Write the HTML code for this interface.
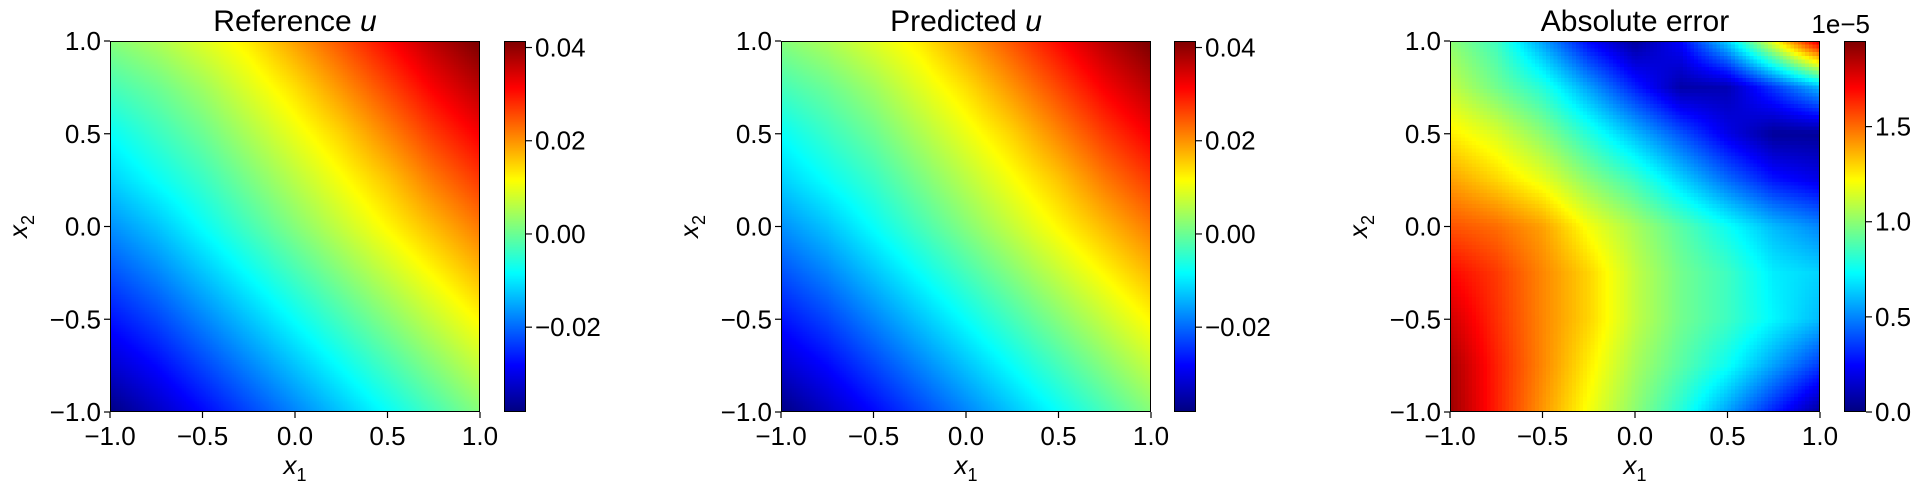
<!DOCTYPE html>
<html><head><meta charset="utf-8">
<style>
html,body{margin:0;padding:0;background:#fff;}
body{width:1922px;height:484px;position:relative;overflow:hidden;font-family:"Liberation Sans","DejaVu Sans",sans-serif;}
canvas{position:absolute;}
svg{position:absolute;left:0;top:0;}
</style></head>
<body>
<div style="position:absolute;left:0;top:0;width:1922px;height:484px;">
<canvas id="c1"></canvas>
<canvas id="c2"></canvas>
<canvas id="c3"></canvas>
<canvas id="cb1"></canvas>
<canvas id="cb2"></canvas>
<canvas id="cb3"></canvas>
<svg id="ov" width="1922" height="484"></svg>
</div>
<script>
const gridX1 = [-1,-0.75,-0.5,-0.25,0,0.25,0.5,0.75,1];
const gridX2 = [1,0.75,0.5,0.25,0,-0.25,-0.5,-0.75,-1];
const refU = [
 [0.002,0.005,0.009,0.013,0.019,0.025,0.031,0.037,0.042],
 [-0.003,0.000,0.004,0.009,0.014,0.020,0.026,0.032,0.037],
 [-0.008,-0.004,0.000,0.005,0.010,0.015,0.021,0.027,0.032],
 [-0.012,-0.008,-0.004,0.001,0.006,0.011,0.016,0.022,0.027],
 [-0.017,-0.013,-0.008,-0.003,0.002,0.007,0.012,0.017,0.022],
 [-0.022,-0.018,-0.013,-0.008,-0.003,0.002,0.007,0.012,0.017],
 [-0.027,-0.023,-0.018,-0.013,-0.008,-0.003,0.002,0.007,0.012],
 [-0.032,-0.028,-0.023,-0.018,-0.013,-0.008,-0.003,0.002,0.007],
 [-0.038,-0.033,-0.028,-0.023,-0.018,-0.013,-0.008,-0.003,0.002]
];
const predU = [
 [0.002,0.005,0.009,0.013,0.019,0.025,0.031,0.037,0.042],
 [-0.003,0.000,0.004,0.009,0.014,0.020,0.026,0.032,0.037],
 [-0.008,-0.004,0.000,0.005,0.010,0.015,0.021,0.027,0.032],
 [-0.012,-0.008,-0.004,0.001,0.006,0.011,0.016,0.022,0.027],
 [-0.017,-0.013,-0.008,-0.003,0.002,0.007,0.012,0.017,0.022],
 [-0.022,-0.018,-0.013,-0.008,-0.003,0.002,0.007,0.012,0.017],
 [-0.027,-0.023,-0.018,-0.013,-0.008,-0.003,0.002,0.007,0.012],
 [-0.032,-0.028,-0.023,-0.018,-0.013,-0.008,-0.003,0.002,0.007],
 [-0.038,-0.033,-0.028,-0.023,-0.018,-0.013,-0.008,-0.003,0.002]
];
// absolute error in units of 1e-5
const absErr = [
 [1.00,0.85,0.55,0.25,0.05,0.25,0.65,1.20,1.80],
 [1.10,0.95,0.80,0.55,0.30,0.08,0.10,0.35,0.60],
 [1.25,1.15,1.00,0.80,0.60,0.40,0.20,0.05,0.05],
 [1.40,1.30,1.18,1.00,0.85,0.65,0.45,0.28,0.20],
 [1.55,1.50,1.40,1.20,1.05,0.90,0.75,0.60,0.50],
 [1.70,1.60,1.45,1.30,1.10,0.95,0.85,0.70,0.65],
 [1.80,1.62,1.45,1.30,1.10,0.95,0.85,0.72,0.60],
 [1.88,1.65,1.45,1.25,1.05,0.90,0.75,0.55,0.35],
 [1.90,1.65,1.42,1.20,1.00,0.80,0.55,0.30,0.05]
];
const axisTicks = [-1.0,-0.5,0.0,0.5,1.0];
const axisTickLabels = ["\u22121.0","\u22120.5","0.0","0.5","1.0"];
const uTicks = [-0.02,0.00,0.02,0.04];
const uTickLabels = ["\u22120.02","0.00","0.02","0.04"];
const errTicks = [0.0,0.5,1.0,1.5];
const errTickLabels = ["0.0","0.5","1.0","1.5"];
const uRange = [-0.0382,0.0414];
const errRange = [0.0,1.95];
const titles = ["Reference ","Predicted ","Absolute error"];

function jet(t){
  t=Math.max(0,Math.min(1,t));
  const f=(x)=>Math.max(0,Math.min(1,x));
  const r=f(1.5-Math.abs(4*t-3)), g=f(1.5-Math.abs(4*t-2)), b=f(1.5-Math.abs(4*t-1));
  return [r*255,g*255,b*255];
}
function sample(grid,u,v){
  const n=grid[0].length-1, m=grid.length-1;
  let x=u*n, y=v*m; let i=Math.min(Math.floor(x),n-1), j=Math.min(Math.floor(y),m-1);
  const fx=x-i, fy=y-j;
  const a=grid[j][i]*(1-fx)+grid[j][i+1]*fx, b=grid[j+1][i]*(1-fx)+grid[j+1][i+1]*fx;
  return a*(1-fy)+b*fy;
}
const panels=[
 {ax:[110,41,370,371], cb:[504,41,22,371], grid:refU, range:uRange, ticks:uTicks, tl:uTickLabels, cells:200, id:'c1', cbid:'cb1', name:'reference'},
 {ax:[781,41,370,371], cb:[1174,41,22,371], grid:predU, range:uRange, ticks:uTicks, tl:uTickLabels, cells:200, id:'c2', cbid:'cb2', name:'predicted'},
 {ax:[1450,41,370,371], cb:[1844,41,22,371], grid:absErr, range:errRange, ticks:errTicks, tl:errTickLabels, cells:100, id:'c3', cbid:'cb3', name:'error'}
];
const NS='http://www.w3.org/2000/svg';
const ov=document.getElementById('ov');
function el(tag,attrs,txt){const e=document.createElementNS(NS,tag);for(const k in attrs)e.setAttribute(k,attrs[k]);if(txt!==undefined)e.textContent=txt;ov.appendChild(e);return e;}
const FS=26;
panels.forEach((p,pi)=>{
  const [X,Y,W,H]=p.ax;
  const c=document.getElementById(p.id);
  c.style.left=X+'px';c.style.top=Y+'px';c.style.width=W+'px';c.style.height=H+'px';
  c.width=p.cells;c.height=p.cells;
  c.style.imageRendering='pixelated';
  const ctx=c.getContext('2d');const img=ctx.createImageData(p.cells,p.cells);
  for(let j=0;j<p.cells;j++)for(let i=0;i<p.cells;i++){
    const v=sample(p.grid,(i+0.5)/p.cells,(j+0.5)/p.cells);
    const col=jet((v-p.range[0])/(p.range[1]-p.range[0]));
    const k=(j*p.cells+i)*4;img.data[k]=col[0];img.data[k+1]=col[1];img.data[k+2]=col[2];img.data[k+3]=255;
  }
  ctx.putImageData(img,0,0);
  const [cx,cy,cw,ch]=p.cb;
  const cb=document.getElementById(p.cbid);
  cb.style.left=cx+'px';cb.style.top=cy+'px';cb.style.width=cw+'px';cb.style.height=ch+'px';
  cb.width=1;cb.height=256;
  const cctx=cb.getContext('2d');
  for(let k=0;k<256;k++){const col=jet(1-(k+0.5)/256);cctx.fillStyle=`rgb(${col[0]|0},${col[1]|0},${col[2]|0})`;cctx.fillRect(0,k,1,1);}
  let r=el('rect',{x:X+0.5,y:Y+0.5,width:W-1,height:H-1,fill:'none',stroke:'#000','stroke-width':1});
  
  
  r=el('rect',{x:cx+0.5,y:cy+0.5,width:cw-1,height:ch-1,fill:'none',stroke:'#000','stroke-width':1});
  
  
  const sx=v=>X+(v+1)/2*W, sy=v=>Y+H-(v+1)/2*H;
  axisTicks.forEach((t,k)=>{
    const x=sx(t);
    el('line',{x1:x,y1:Y+H,x2:x,y2:Y+H+6,stroke:'#000','stroke-width':1.2});
    const tx=el('text',{x:x,y:Y+H+33,'font-size':FS,'text-anchor':'middle'},axisTickLabels[k]);
    
    
    const y=sy(t);
    el('line',{x1:X-6,y1:y,x2:X,y2:y,stroke:'#000','stroke-width':1.2});
    const ty=el('text',{x:X-9,y:y+9,'font-size':FS,'text-anchor':'end'},axisTickLabels[k]);
    
    
  });
  const scy=v=>cy+ch-(v-p.range[0])/(p.range[1]-p.range[0])*ch;
  p.ticks.forEach((t,k)=>{
    const y=scy(t);
    el('line',{x1:cx+cw,y1:y,x2:cx+cw+6,y2:y,stroke:'#000','stroke-width':1.2});
    const tt=el('text',{x:cx+cw+9,y:y+9,'font-size':FS},p.tl[k]);
    
    
  });
  const ti=el('text',{x:X+W/2,y:Y-10,'font-size':30,'text-anchor':'middle'});
  
  
  ti.appendChild(document.createTextNode(titles[pi]));
  if(pi<2){const ts=document.createElementNS(NS,'tspan');ts.setAttribute('font-style','italic');ts.textContent='u';ti.appendChild(ts);}
  const xl=el('text',{x:X+W/2,y:Y+H+62,'font-size':26,'text-anchor':'middle','font-style':'italic'});
  
  
  xl.innerHTML='x<tspan font-size="18" font-style="normal" dy="7">1</tspan>';
  const yl=el('text',{x:0,y:0,'font-size':26,'text-anchor':'middle','font-style':'italic',transform:`translate(${X-83},${Y+H/2}) rotate(-90)`});
  
  
  yl.innerHTML='x<tspan font-size="18" font-style="normal" dy="7">2</tspan>';
  if(pi===2){
    const off=el('text',{x:cx+cw+4,y:cy-8,'font-size':FS,'text-anchor':'end'},'1e\u22125');
    
    
  }
});
</script>
</body></html>
